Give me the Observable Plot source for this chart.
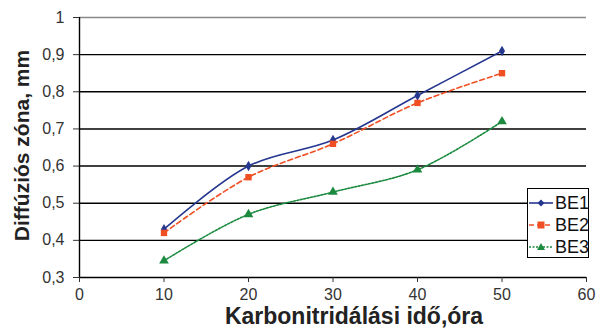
<!DOCTYPE html>
<html><head><meta charset="utf-8">
<script src="https://cdn.jsdelivr.net/npm/d3@7"></script>
<script src="https://cdn.jsdelivr.net/npm/@observablehq/plot@0.6"></script>
<style>
body{margin:0;background:#fff;font-family:"Liberation Sans",Arial,sans-serif;}
#wrap{position:relative;width:598px;height:336px;}
#legend{position:absolute;left:527px;top:188px;width:62px;height:70px;border:1px solid #000;background:#fff;box-sizing:border-box;}
.row{position:absolute;left:1px;height:20px;display:flex;align-items:center;font-size:18px;color:#111;}
.row svg{margin-right:2px;}
</style></head>
<body><div id="wrap"></div>
<script>
const hours = [10, 20, 30, 40, 50];
const be1 = [0.43, 0.60, 0.67, 0.79, 0.91];
const be2 = [0.42, 0.57, 0.66, 0.77, 0.85];
const be3 = [0.345, 0.47, 0.53, 0.59, 0.72];
const seriesNames = ["BE1", "BE2", "BE3"];
const colors = ["#26378f", "#f04f23", "#1b8a3e"];
const dashes = [null, "5,3", "2,1.5"];
const symbols = ["diamond", "square", "triangle"];
const yTicks = [0.3, 0.4, 0.5, 0.6, 0.7, 0.8, 0.9, 1];
const xTicks = [0, 10, 20, 30, 40, 50, 60];
const xTitle = "Karbonitridálási idő,óra";
const yTitle = "Diffúziós zóna, mm";

const allSeries = [be1, be2, be3];
const data = seriesNames.flatMap((s, i) => hours.map((h, j) => ({series: s, x: h, y: allSeries[i][j]})));
const fmt = d => d === 1 ? "1" : d.toFixed(1).replace(".", ",");

const marks = [
  Plot.ruleY(yTicks.filter(d => d > 0.3 && d < 1), {stroke: "#000", strokeWidth: 1.4}),
  Plot.ruleY([1], {stroke: "#888", strokeWidth: 1.3}),
  Plot.ruleY([0.3], {stroke: "#000", strokeWidth: 1.4}),
  Plot.ruleX([0], {stroke: "#000", strokeWidth: 1.4}),
  Plot.axisY({ticks: yTicks, tickFormat: fmt, tickSize: 6, tickPadding: 9, fontSize: 16, color: "#333", label: null}),
  Plot.axisX({ticks: xTicks, tickSize: 5, tickPadding: 6, fontSize: 16, color: "#333", label: null}),
];
seriesNames.forEach((s, i) => {
  const d = data.filter(r => r.series === s);
  marks.push(Plot.line(d, {x: "x", y: "y", curve: "catmull-rom", stroke: colors[i], strokeWidth: 1.6, strokeDasharray: dashes[i]}));
  marks.push(Plot.dot(d, {x: "x", y: "y", symbol: () => symbols[i], fill: colors[i], stroke: "none", r: i === 0 ? 3.2 : 3.6}));
});
marks.push(Plot.text([xTitle], {frameAnchor: "bottom", dy: 46, dx: 21, fontSize: 23, fontWeight: "bold", fill: "#222"}));
marks.push(Plot.text([yTitle], {frameAnchor: "left", dx: -57, dy: -2, rotate: -90, textAnchor: "middle", fontSize: 21, fontWeight: "bold", fill: "#222"}));

const chart = Plot.plot({
  width: 598, height: 336,
  marginLeft: 79, marginRight: 12, marginTop: 17, marginBottom: 59,
  style: {fontFamily: "Liberation Sans, Arial, sans-serif", background: "#fff", overflow: "visible"},
  x: {domain: [0, 60]},
  y: {domain: [0.3, 1]},
  marks
});
const wrap = document.getElementById("wrap");
wrap.appendChild(chart);

const legend = document.createElement("div");
legend.id = "legend";
const paths = {
  diamond: "M12,-3.5 L15.5,0 L12,3.5 L8.5,0Z",
  square: "M8.5,-3.5 H15.5 V3.5 H8.5Z",
  triangle: "M12,-4 L16,3 L8,3Z"
};
seriesNames.forEach((s, i) => {
  const row = document.createElement("div");
  row.className = "row";
  row.style.top = (4 + i * 22) + "px";
  row.innerHTML = `<svg width="24" height="12" viewBox="0 -6 24 12"><line x1="0" x2="24" y1="0" y2="0" stroke="${colors[i]}" stroke-width="1.6" ${dashes[i] ? `stroke-dasharray="${dashes[i]}"` : ""}/><path d="${paths[symbols[i]]}" fill="${colors[i]}"/></svg><span>${s}</span>`;
  legend.appendChild(row);
});
wrap.appendChild(legend);
</script></body></html>
